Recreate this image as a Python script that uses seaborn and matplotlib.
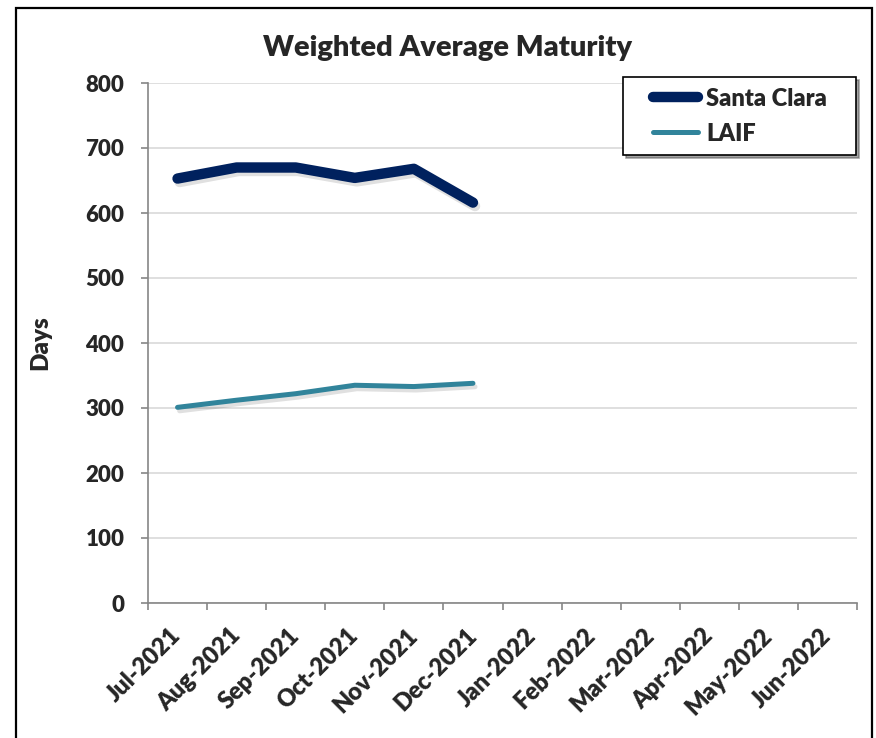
import numpy as np
import pandas as pd
import matplotlib.pyplot as plt
import matplotlib.patheffects as pe
from matplotlib.patches import Rectangle
from matplotlib.legend_handler import HandlerLine2D
import seaborn as sns

# chart data
months = ["Jul-2021", "Aug-2021", "Sep-2021", "Oct-2021", "Nov-2021", "Dec-2021",
          "Jan-2022", "Feb-2022", "Mar-2022", "Apr-2022", "May-2022", "Jun-2022"]
santa_clara = [653, 670, 670, 654, 668, 616]
laif = [301, 312, 322, 335, 333, 338]
y_ticks = [0, 100, 200, 300, 400, 500, 600, 700, 800]

navy = "#00215E"
teal = "#31849B"

sns.set_style("white")
plt.rcParams["font.family"] = ["Lato", "DejaVu Sans"]
W = "heavy"

fig = plt.figure(figsize=(8.76, 7.38), dpi=100)
ax = fig.add_axes([148 / 876, 135 / 738, 709 / 876, 520 / 738])

df = pd.DataFrame({
    "pos": np.arange(len(santa_clara)),
    "santa_clara": santa_clara,
    "laif": laif,
})

shadow = [pe.SimpleLineShadow(offset=(1.5, -2.5), shadow_color="black", alpha=0.12), pe.Normal()]

sns.lineplot(data=df, x="pos", y="santa_clara", ax=ax, color=navy, linewidth=7.5,
             solid_capstyle="round", solid_joinstyle="round", label="Santa Clara",
             path_effects=shadow)
sns.lineplot(data=df, x="pos", y="laif", ax=ax, color=teal, linewidth=3.6,
             solid_capstyle="round", solid_joinstyle="round", label="LAIF",
             path_effects=shadow)

# category axis: ticks at the boundaries, labels at the centers
ax.set_xlim(-0.5, len(months) - 0.5)
ax.set_xticks(np.arange(len(months) + 1) - 0.5)
ax.set_xticklabels([])
ax.set_xticks(np.arange(len(months)), minor=True)
ax.set_xticklabels(months, minor=True, rotation=45, ha="right", va="center",
                   rotation_mode="anchor", fontsize=17, fontweight=W)
ax.tick_params(axis="x", which="major", direction="out", length=5, color="#868686",
               width=1.2, bottom=True)
ax.tick_params(axis="x", which="minor", length=0, pad=21)

ax.set_ylim(0, 800)
ax.set_yticks(y_ticks)
ax.set_yticklabels([str(v) for v in y_ticks], fontsize=16, fontweight=W)
ax.tick_params(axis="y", direction="out", length=5, color="#868686", width=1.2,
               left=True, pad=12)
ax.yaxis.grid(True, color="#D9D9D9", linewidth=1.2)
ax.set_axisbelow(True)

for side in ["top", "right"]:
    ax.spines[side].set_visible(False)
for side in ["left", "bottom"]:
    ax.spines[side].set_color("#868686")
    ax.spines[side].set_linewidth(1.2)

ax.set_xlabel("")
ax.set_ylabel("")

fig.text(447 / 876, 1 - 48 / 738, "Weighted Average Maturity", ha="center", va="center",
         fontsize=21, fontweight=W)
fig.text(40 / 876, 1 - 343 / 738, "Days", ha="center", va="center", rotation=90,
         fontsize=17.5, fontweight=W)

# legend box stretched over its frame, handle inset from the left edge
leg = ax.legend(loc="upper left", bbox_to_anchor=(0.67, 0.8654, 0.3286, 0.146),
                mode="expand", borderaxespad=0, frameon=True,
                fancybox=False, shadow=True, edgecolor="black", framealpha=1,
                prop={"weight": W, "size": 17}, handlelength=2.73, handletextpad=0.34,
                borderpad=0.45, labelspacing=0.55,
                handler_map={plt.Line2D: HandlerLine2D(xpad=0.82)})
leg.get_frame().set_linewidth(1.2)
for line in leg.get_lines():
    line.set_path_effects([])
    line.set_solid_capstyle("round")

# outer border of the chart area
fig.patches.append(Rectangle((16 / 876, -0.01), 856 / 876, 1 - 8 / 738 + 0.01,
                             transform=fig.transFigure, fill=False, edgecolor="black",
                             linewidth=1.6))

fig.savefig("out.png", dpi=100)
